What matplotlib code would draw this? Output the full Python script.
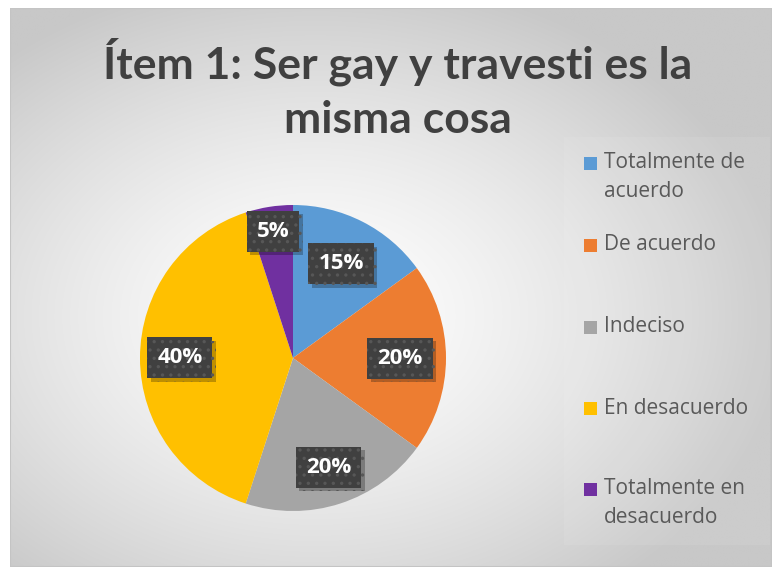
import textwrap
import numpy as np
import matplotlib
matplotlib.use("Agg")
import matplotlib.pyplot as plt
import matplotlib.patheffects as pe
from matplotlib.patches import Rectangle

title = "Ítem 1: Ser gay y travesti es la\nmisma cosa"
categories = ["Totalmente de acuerdo", "De acuerdo", "Indeciso",
              "En desacuerdo", "Totalmente en desacuerdo"]
values = [15, 20, 20, 40, 5]
colors = ["#5B9BD5", "#ED7D31", "#A5A5A5", "#FFC000", "#7030A0"]
label_radius = [0.69, 0.70, 0.75, 0.74, 0.84]

W, H = 772, 567
fig = plt.figure(figsize=(W / 100, H / 100), dpi=100)
fig.patch.set_facecolor("white")
plt.rcParams["hatch.linewidth"] = 1.2

# background with radial gradient
bx0, by0, bx1, by1 = 10, 8, 772, 567
bg = fig.add_axes([bx0 / W, 1 - by1 / H, (bx1 - bx0) / W, (by1 - by0) / H])
bg.set_axis_off()
ny, nx = 300, 400
yy, xx = np.mgrid[0:ny, 0:nx]
cx, cy = nx * 0.40, ny * 0.55
d = np.sqrt(((xx - cx) / (nx * 0.62)) ** 2 + ((yy - cy) / (ny * 0.62)) ** 2)
d = np.clip(d, 0, 1)
v = 1.0 - (1.0 - 200 / 255) * d ** 1.4
img = np.dstack([v, v, v])
bg.imshow(img, aspect="auto", extent=[0, 1, 0, 1], interpolation="bilinear")
bg.set_xlim(0, 1)
bg.set_ylim(0, 1)
bg.add_patch(Rectangle((0, 0), 1, 1, fill=False, ec="#c4c4c4", lw=1.5,
                       transform=bg.transAxes))

# title
fig.text(398 / W, 1 - 89 / H, title, ha="center", va="center",
         fontsize=32, fontweight="bold", color="#404040", family="Lato",
         linespacing=1.42)

# legend box
fig.patches.append(Rectangle((564 / W, 1 - 545 / H), (770 - 564) / W, (545 - 137) / H,
                             transform=fig.transFigure, fc="white", alpha=0.08,
                             ec="none", zorder=1))

# pie
pcx, pcy, R = 293, 358, 153
ax = fig.add_axes([(pcx - R) / W, 1 - (pcy + R) / H, 2 * R / W, 2 * R / H])
wedges, _ = ax.pie(values, colors=colors, startangle=90, counterclock=False,
                   radius=1, wedgeprops=dict(linewidth=0))
ax.set_xlim(-1, 1)
ax.set_ylim(-1, 1)
ax.set_aspect("auto")
ax.set_axis_off()

total = sum(values)
for v_, r_, w in zip(values, label_radius, wedges):
    ang = np.deg2rad((w.theta1 + w.theta2) / 2)
    x, y = r_ * np.cos(ang), r_ * np.sin(ang)
    txt = f"{round(100 * v_ / total)}%"
    t = ax.text(x, y, txt, ha="center", va="center", fontsize=16,
                fontweight="bold", color="white", family="Open Sans",
                bbox=dict(boxstyle="square,pad=0.45", fc="#404040", ec="#575757",
                          lw=0, hatch=".."))
    t.get_bbox_patch().set_path_effects(
        [pe.SimplePatchShadow(offset=(2.5, -2.5), shadow_rgbFace="black", alpha=0.25),
         pe.Normal()])

# legend entries
sq_y = [163.5, 245, 327, 408.5, 489.5]
for lab, col, y in zip(categories, colors, sq_y):
    fig.patches.append(Rectangle((584 / W, 1 - (y + 6.5) / H), 13 / W, 13 / H,
                                 transform=fig.transFigure, fc=col, ec="none",
                                 zorder=3))
    fig.text(604 / W, 1 - (y - 11) / H, textwrap.fill(lab, 13), ha="left",
             va="top", fontsize=15, color="#595959", family="Open Sans",
             linespacing=1.45)

fig.savefig("out.png", dpi=100)
